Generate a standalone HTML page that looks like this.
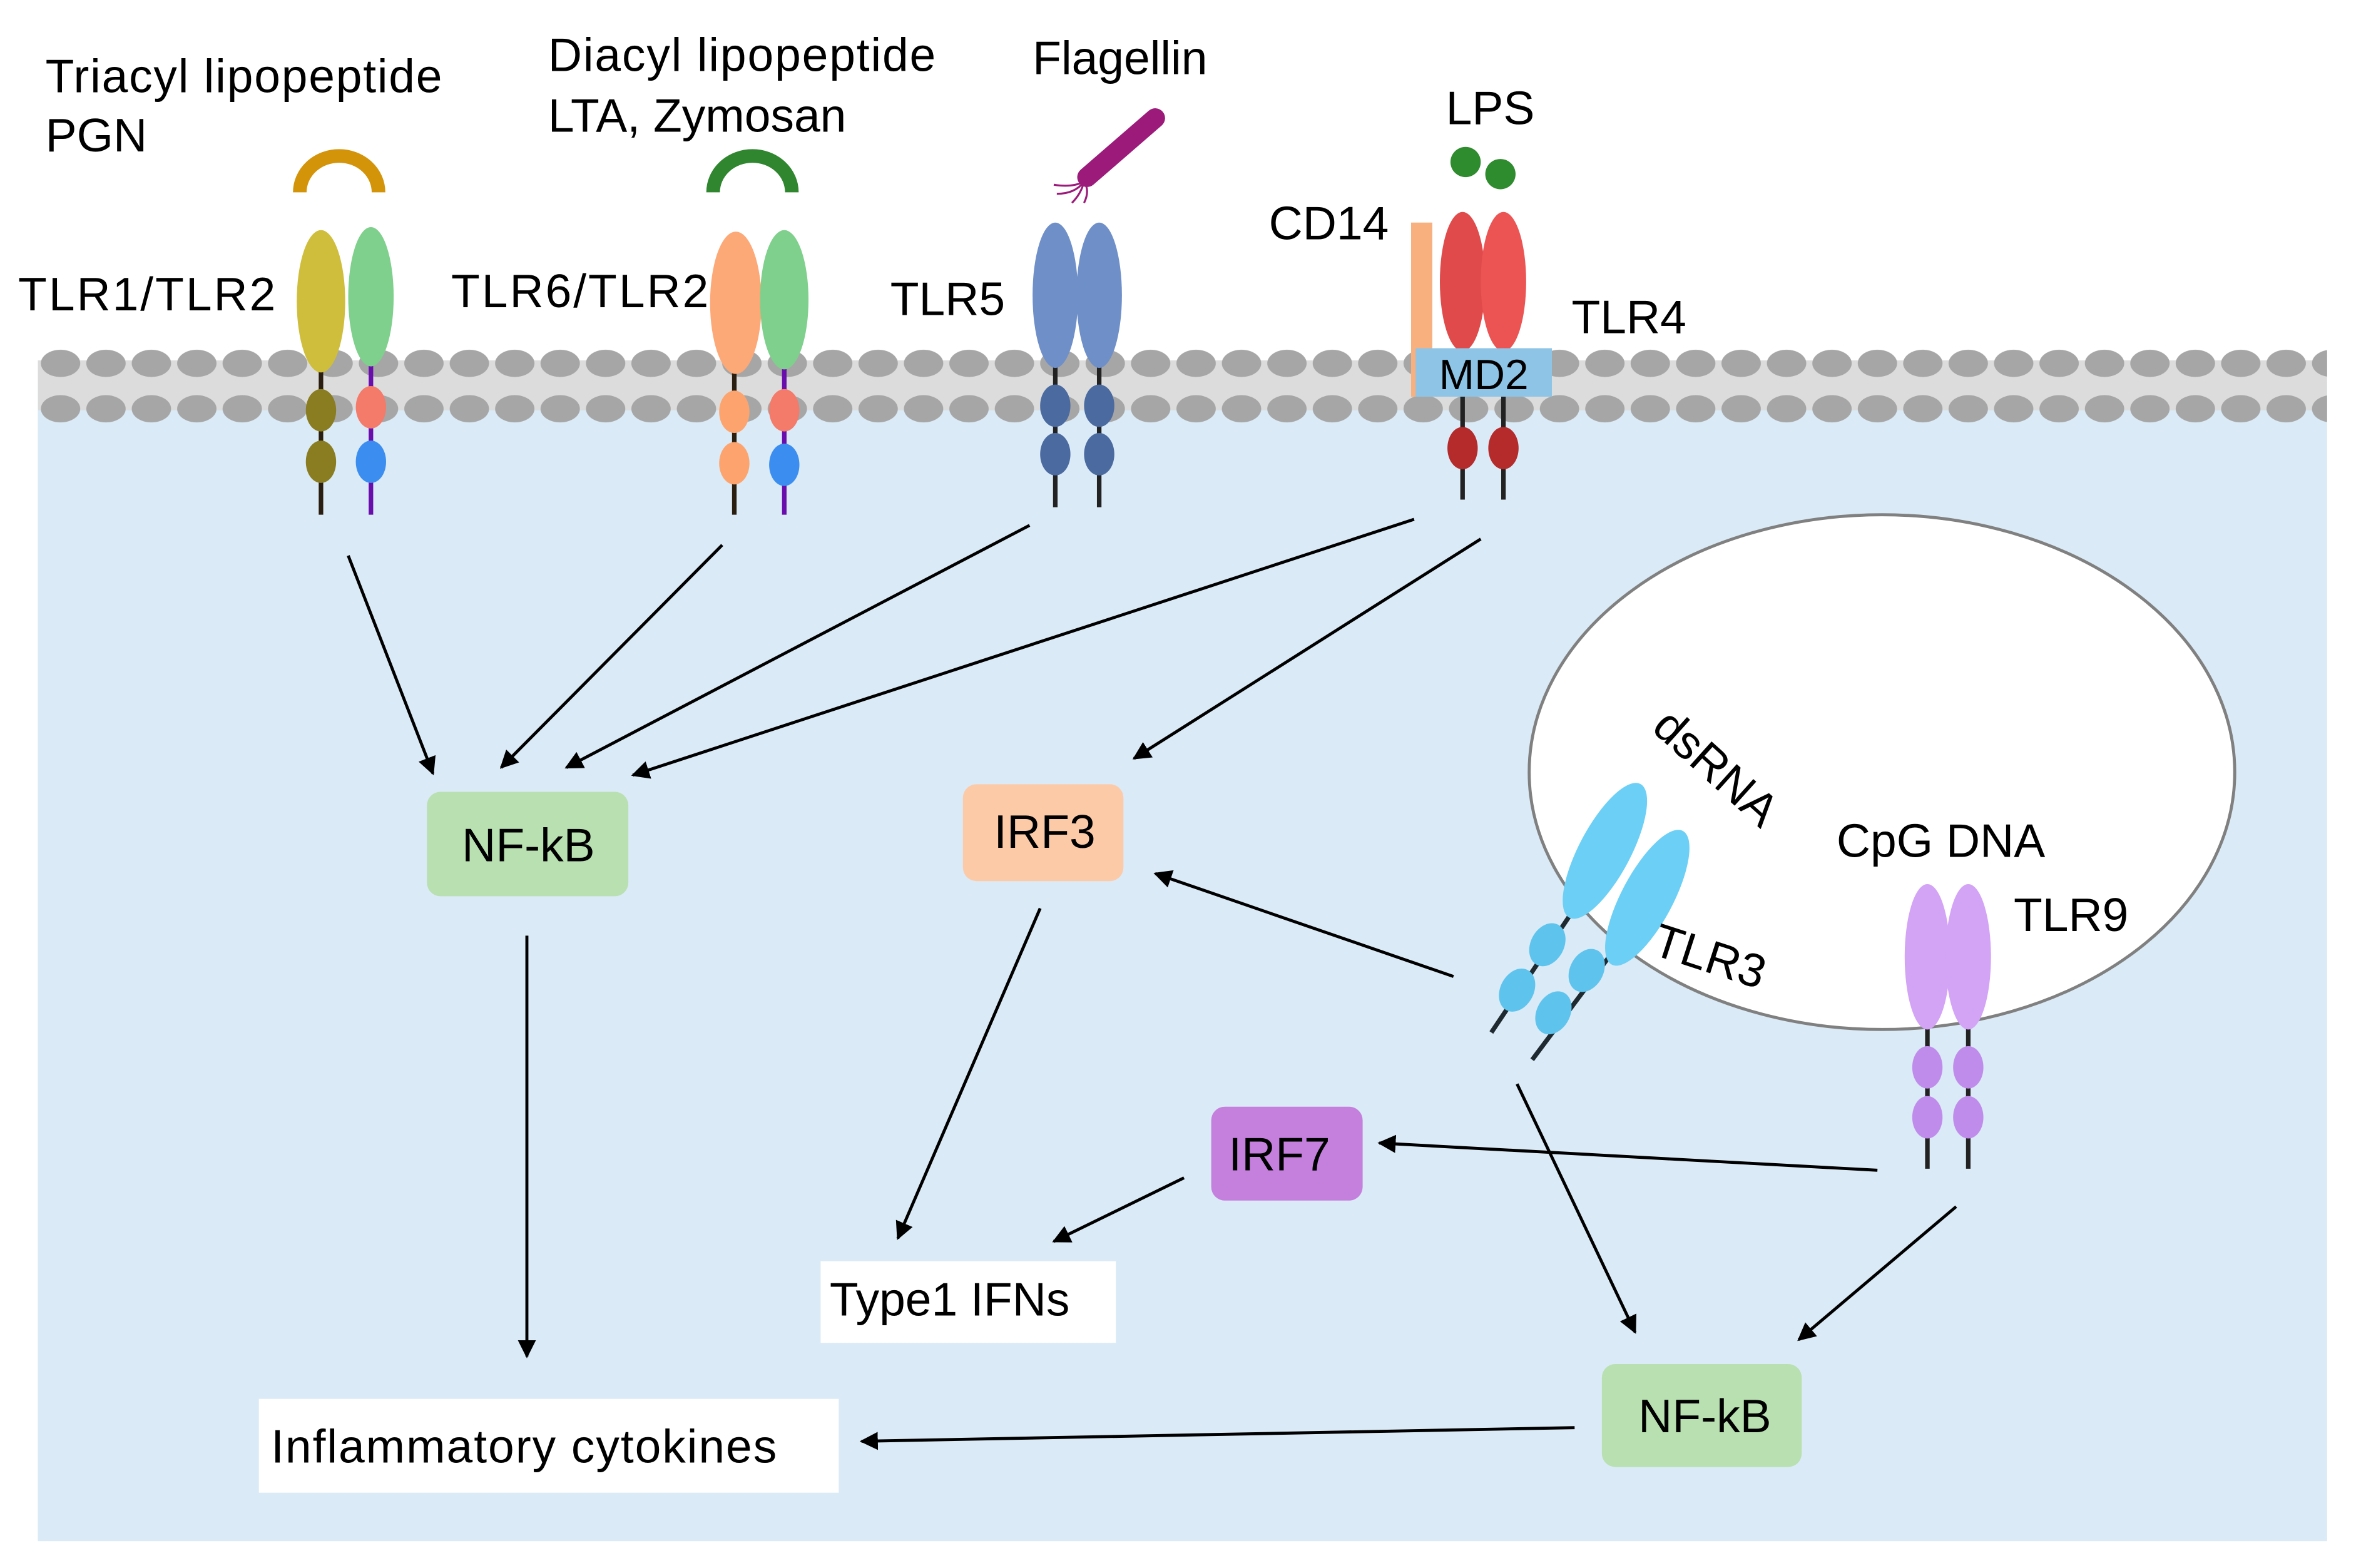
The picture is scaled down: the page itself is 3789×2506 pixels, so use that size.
<!DOCTYPE html>
<html><head><meta charset="utf-8"><style>html,body{margin:0;padding:0;background:#fff}svg{display:block}</style></head>
<body>
<svg width="3789" height="2506" viewBox="0 0 1566 1035.7" xmlns="http://www.w3.org/2000/svg" font-family="Liberation Sans, Arial, sans-serif">
<defs>
<marker id="ah" viewBox="0 0 10 10" refX="9" refY="5" markerWidth="6" markerHeight="6" orient="auto-start-reverse" markerUnits="strokeWidth"><path d="M0,0 L10,5 L0,10 z" fill="#000"/></marker>
<pattern id="heads" x="25" y="229" width="30" height="52" patternUnits="userSpaceOnUse">
<ellipse cx="15" cy="11" rx="13" ry="9" fill="#a6a6a6"/>
<ellipse cx="15" cy="41" rx="13" ry="9" fill="#a6a6a6"/>
</pattern>
</defs>
<rect width="1566" height="1035.7" fill="#fff"/>
<rect x="25" y="250" width="1512" height="768" fill="#daeaf6"/>
<rect x="25" y="238" width="1512" height="33" fill="#dcdcdc"/>
<rect x="25" y="230" width="1512" height="52" fill="url(#heads)"/>

<!-- ligands -->
<path d="M198,127 A26,24 0 0 1 250,127" fill="none" stroke="#d4940a" stroke-width="9"/>
<path d="M471,127 A26,24 0 0 1 523,127" fill="none" stroke="#2f862f" stroke-width="9"/>
<circle cx="968" cy="107" r="10" fill="#2e8b2e"/><circle cx="991" cy="115" r="10" fill="#2e8b2e"/>
<path d="M718,117 L763,78" stroke="#9b1a7a" stroke-width="13" stroke-linecap="round"/>
<path d="M716,120 q-8,4 -20,2 M716,120 q-6,8 -18,8 M716,120 q-2,8 -8,14 M716,120 q4,6 0,14" stroke="#9b1a7a" stroke-width="1.3" fill="none"/>

<!-- TLR1/TLR2 -->
<g>
<line x1="212" y1="240" x2="212" y2="340" stroke="#2a1e10" stroke-width="3"/>
<line x1="245" y1="240" x2="245" y2="340" stroke="#6a0dad" stroke-width="3"/>
<ellipse cx="212" cy="199" rx="16" ry="47" fill="#cfbe3c"/>
<ellipse cx="245" cy="196" rx="15" ry="46" fill="#7fd08c"/>
<ellipse cx="212" cy="271" rx="10" ry="14" fill="#8a7c20"/>
<ellipse cx="212" cy="305" rx="10" ry="14" fill="#8a7c20"/>
<ellipse cx="245" cy="269" rx="10" ry="14" fill="#f47a6a"/>
<ellipse cx="245" cy="305" rx="10" ry="14" fill="#3b8ef0"/>
</g>
<!-- TLR6/TLR2 -->
<g>
<line x1="485" y1="240" x2="485" y2="340" stroke="#2a1e10" stroke-width="3"/>
<line x1="518" y1="240" x2="518" y2="340" stroke="#6a0dad" stroke-width="3"/>
<ellipse cx="486" cy="200" rx="17" ry="47" fill="#fda877"/>
<ellipse cx="518" cy="198" rx="16" ry="46" fill="#7fd08c"/>
<ellipse cx="485" cy="272" rx="10" ry="14" fill="#fda46e"/>
<ellipse cx="485" cy="306" rx="10" ry="14" fill="#fda46e"/>
<ellipse cx="518" cy="271" rx="10" ry="14" fill="#f47a6a"/>
<ellipse cx="518" cy="307" rx="10" ry="14" fill="#3b8ef0"/>
</g>
<!-- TLR5 -->
<g>
<line x1="697" y1="240" x2="697" y2="335" stroke="#222" stroke-width="3"/>
<line x1="726" y1="240" x2="726" y2="335" stroke="#222" stroke-width="3"/>
<ellipse cx="697" cy="195" rx="15" ry="48" fill="#6f8fc8"/>
<ellipse cx="726" cy="195" rx="15" ry="48" fill="#6f8fc8"/>
<ellipse cx="697" cy="268" rx="10" ry="14" fill="#4a6aa0"/>
<ellipse cx="697" cy="300" rx="10" ry="14" fill="#4a6aa0"/>
<ellipse cx="726" cy="268" rx="10" ry="14" fill="#4a6aa0"/>
<ellipse cx="726" cy="300" rx="10" ry="14" fill="#4a6aa0"/>
</g>
<!-- TLR4 -->
<g>
<line x1="966" y1="240" x2="966" y2="330" stroke="#222" stroke-width="3"/>
<line x1="993" y1="240" x2="993" y2="330" stroke="#222" stroke-width="3"/>
<ellipse cx="966" cy="186" rx="15" ry="46" fill="#e04a4a"/>
<ellipse cx="993" cy="186" rx="15" ry="46" fill="#ec5454"/>
<rect x="932" y="147" width="14" height="115" fill="#f8b07e"/>
<rect x="935" y="230" width="90" height="32" fill="#8ec4e6"/>
<text x="980" y="257" font-size="28" text-anchor="middle">MD2</text>
<ellipse cx="966" cy="296" rx="10" ry="14" fill="#b52a2a"/>
<ellipse cx="993" cy="296" rx="10" ry="14" fill="#b52a2a"/>
</g>

<!-- endosome -->
<ellipse cx="1243" cy="510" rx="233" ry="170" fill="#fff" stroke="#808080" stroke-width="2"/>
<!-- TLR3 -->
<g>
<line x1="1040" y1="600" x2="985" y2="682" stroke="#1e2a30" stroke-width="3"/>
<line x1="1068" y1="625" x2="1012" y2="700" stroke="#1e2a30" stroke-width="3"/>
<ellipse cx="1060" cy="562" rx="17" ry="50" fill="#6ccff6" transform="rotate(28 1060 562)"/>
<ellipse cx="1088" cy="593" rx="17" ry="50" fill="#6ccff6" transform="rotate(28 1088 593)"/>
<ellipse cx="1022" cy="624" rx="11" ry="15" fill="#5ec4ee" transform="rotate(28 1022 624)"/>
<ellipse cx="1002" cy="654" rx="11" ry="15" fill="#5ec4ee" transform="rotate(28 1002 654)"/>
<ellipse cx="1048" cy="641" rx="11" ry="15" fill="#5ec4ee" transform="rotate(28 1048 641)"/>
<ellipse cx="1026" cy="669" rx="11" ry="15" fill="#5ec4ee" transform="rotate(28 1026 669)"/>
</g>
<!-- TLR9 -->
<g>
<line x1="1273" y1="650" x2="1273" y2="772" stroke="#222" stroke-width="3"/>
<line x1="1300" y1="650" x2="1300" y2="772" stroke="#222" stroke-width="3"/>
<ellipse cx="1273" cy="632" rx="15" ry="48" fill="#d3a3f6"/>
<ellipse cx="1300" cy="632" rx="15" ry="48" fill="#d3a3f6"/>
<ellipse cx="1273" cy="705" rx="10" ry="14" fill="#c08cec"/>
<ellipse cx="1273" cy="738" rx="10" ry="14" fill="#c08cec"/>
<ellipse cx="1300" cy="705" rx="10" ry="14" fill="#c08cec"/>
<ellipse cx="1300" cy="738" rx="10" ry="14" fill="#c08cec"/>
</g>

<!-- labels -->
<g font-size="31" fill="#000">
<text x="30" y="61" textLength="262">Triacyl lipopeptide</text>
<text x="30" y="100">PGN</text>
<text x="362" y="47" textLength="256">Diacyl lipopeptide</text>
<text x="362" y="87">LTA, Zymosan</text>
<text x="682" y="49">Flagellin</text>
<text x="955" y="82">LPS</text>
<text x="838" y="158">CD14</text>
<text x="12" y="205" textLength="170">TLR1/TLR2</text>
<text x="298" y="203" textLength="170">TLR6/TLR2</text>
<text x="588" y="208">TLR5</text>
<text x="1038" y="220">TLR4</text>
<text x="1213" y="566">CpG DNA</text>
<text x="1330" y="615">TLR9</text>
<text x="1090" y="482" transform="rotate(42 1090 482)">dsRNA</text>
<text x="1090" y="630" transform="rotate(18 1090 630)">TLR3</text>
</g>

<!-- boxes -->
<rect x="282" y="523" width="133" height="69" rx="9" fill="#b8e0b0"/>
<text x="349" y="569" font-size="31" text-anchor="middle">NF-kB</text>
<rect x="636" y="518" width="106" height="64" rx="9" fill="#fdcaa8"/>
<text x="690" y="560" font-size="31" text-anchor="middle">IRF3</text>
<rect x="800" y="731" width="100" height="62" rx="9" fill="#c57fdd"/>
<text x="845" y="773" font-size="31" text-anchor="middle">IRF7</text>
<rect x="542" y="833" width="195" height="54" fill="#fff"/>
<text x="548" y="869" font-size="31">Type1 IFNs</text>
<rect x="171" y="924" width="383" height="62" fill="#fff"/>
<text x="179" y="966" font-size="31" textLength="334">Inflammatory cytokines</text>
<rect x="1058" y="901" width="132" height="68" rx="9" fill="#b8e0b0"/>
<text x="1126" y="946" font-size="31" text-anchor="middle">NF-kB</text>

<!-- arrows -->
<g stroke="#000" stroke-width="2" fill="none" marker-end="url(#ah)">
<line x1="230" y1="367" x2="286" y2="511"/>
<line x1="477" y1="360" x2="331" y2="507"/>
<line x1="680" y1="347" x2="374" y2="507"/>
<line x1="934" y1="343" x2="418" y2="512"/>
<line x1="978" y1="356" x2="749" y2="501"/>
<line x1="348" y1="618" x2="348" y2="896"/>
<line x1="687" y1="600" x2="593" y2="818"/>
<line x1="782" y1="778" x2="696" y2="820"/>
<line x1="960" y1="645" x2="763" y2="577"/>
<line x1="1240" y1="773" x2="911" y2="755"/>
<line x1="1002" y1="716" x2="1080" y2="880"/>
<line x1="1292" y1="797" x2="1188" y2="885"/>
<line x1="1040" y1="943" x2="569" y2="952"/>
</g>
</svg>
</body></html>
